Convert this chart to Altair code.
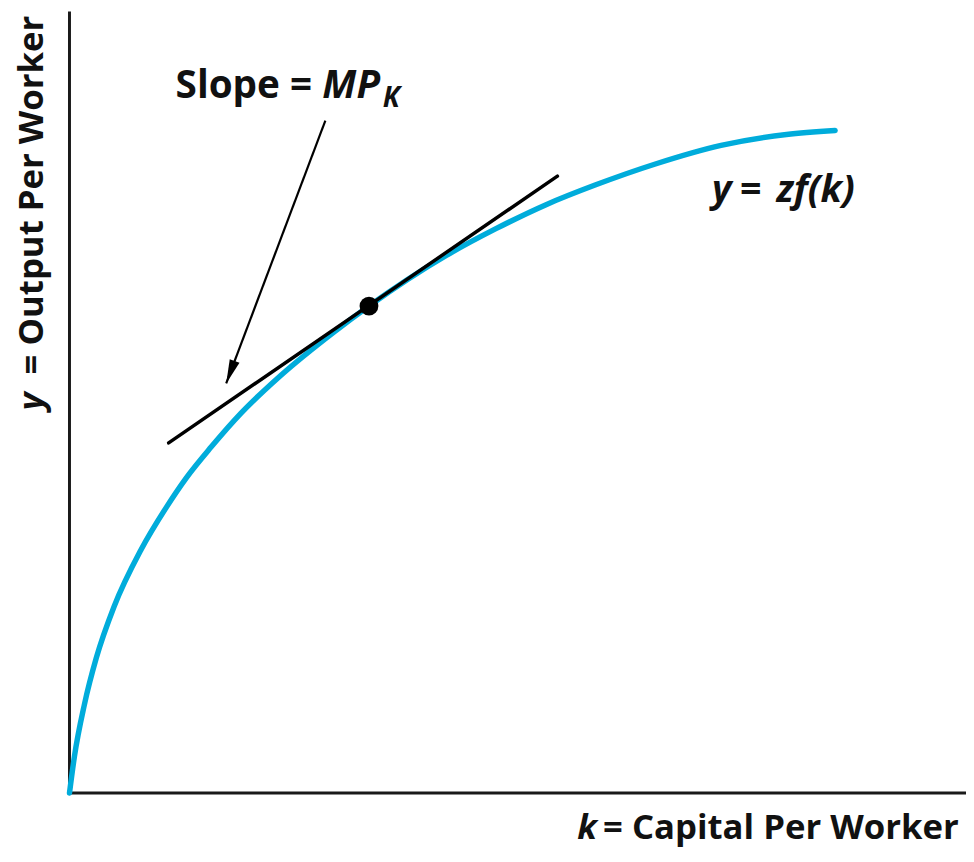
import math
import altair as alt
import pandas as pd

# Production function y = z f(k) (plot units, k to the right, y up)
curve_k = [0, 5, 15, 27, 45, 72, 97, 118, 143, 173, 213, 267, 302, 380, 430, 480, 530, 590, 657, 723, 772]
curve_y = [0, 37, 89, 136, 188, 245, 287, 318, 349, 383, 421, 465, 491, 542, 569, 593, 613, 634, 653, 664, 668]

# Tangent line at the marked point
tangent_k = [100, 492]
tangent_y = [353, 622]
point_k = [302]
point_y = [491]

# Arrow from the label to the tangent line
arrow_k = [258, 158]
arrow_y = [678, 413]

K_MAX = 904
Y_MAX = 788

xs = alt.Scale(domain=[0, K_MAX], nice=False, zero=False)
ys = alt.Scale(domain=[0, Y_MAX], nice=False, zero=False)

FONT = "Open Sans"
BLUE = "#00acdb"
INK = "#111111"


def X(field="k"):
    return alt.X(f"{field}:Q", scale=xs, axis=None)


def Y(field="y"):
    return alt.Y(f"{field}:Q", scale=ys, axis=None)


# axes drawn as rules
axes_df = pd.DataFrame({"k": [0, 0], "y": [0, 0], "k2": [K_MAX, 0], "y2": [0, Y_MAX]})
axes = alt.Chart(axes_df).mark_rule(color="#1a1a1a", strokeWidth=3).encode(
    x=X(), y=Y(), x2="k2:Q", y2="y2:Q"
)

curve_df = pd.DataFrame({"k": curve_k, "y": curve_y})
curve = alt.Chart(curve_df).mark_line(color=BLUE, strokeWidth=5.5, interpolate="monotone",
                                      strokeCap="round").encode(
    x=X(), y=Y(), order="k:Q",
)

tan_df = pd.DataFrame({"k": tangent_k, "y": tangent_y})
tangent = alt.Chart(tan_df).mark_line(color="#000000", strokeWidth=3.5, strokeCap="round").encode(
    x=X(), y=Y(),
)

pt_df = pd.DataFrame({"k": point_k, "y": point_y})
point = alt.Chart(pt_df).mark_point(filled=True, color="#000000", size=360, opacity=1,
                                    shape="circle").encode(x=X(), y=Y())

arr_df = pd.DataFrame({"k": arrow_k, "y": arrow_y})
arrow_line = alt.Chart(arr_df).mark_line(color="#000000", strokeWidth=2.2).encode(x=X(), y=Y())

dx = arrow_k[1] - arrow_k[0]
dy = arrow_y[1] - arrow_y[0]
head_angle = (math.degrees(math.atan2(dx, dy)) + 360) % 360  # clockwise from up
head_df = pd.DataFrame({"k": [arrow_k[1]], "y": [arrow_y[1]]})
arrow_head = alt.Chart(head_df).mark_point(
    filled=True, color="#000000", opacity=1, size=440,
    shape="M0,0L0.5,2.3L-0.5,2.3Z", angle=head_angle,
).encode(x=X(), y=Y())


def label(text, k, y, size=35, style="normal", angle=0, align="left"):
    df = pd.DataFrame({"k": [k], "y": [y], "t": [text]})
    return alt.Chart(df).mark_text(
        font=FONT, fontSize=size, fontWeight="bold", fontStyle=style, color=INK,
        align=align, baseline="alphabetic", angle=angle,
    ).encode(x=X(), y=Y(), text="t:N")


labels = [
    label("Slope =", 107, 701, size=39),
    label("MP", 255, 701, size=39, style="italic"),
    label("K", 316, 692, size=28, style="italic"),
    label("y", 648, 596, size=38, style="italic"),
    label("=", 676, 596, size=38),
    label("zf(k)", 713, 596, size=38, style="italic"),
    label("k", 512, -46, size=35, style="italic"),
    label("= Capital Per Worker", 538, -46, size=35),
    label("y", -26.5, 386, size=35, style="italic", angle=270),
    label("= Output Per Worker", -26.5, 422, size=35, angle=270),
]

chart = alt.layer(axes, curve, tangent, arrow_line, arrow_head, point, *labels).properties(
    width=K_MAX,
    height=Y_MAX,
    autosize=alt.AutoSizeParams(type="none"),
    padding={"left": 62, "top": 0, "right": 0, "bottom": 58},
    background="#ffffff",
).configure_view(stroke=None)

chart.save("out.html", embed_options={"renderer": "svg", "actions": False})
